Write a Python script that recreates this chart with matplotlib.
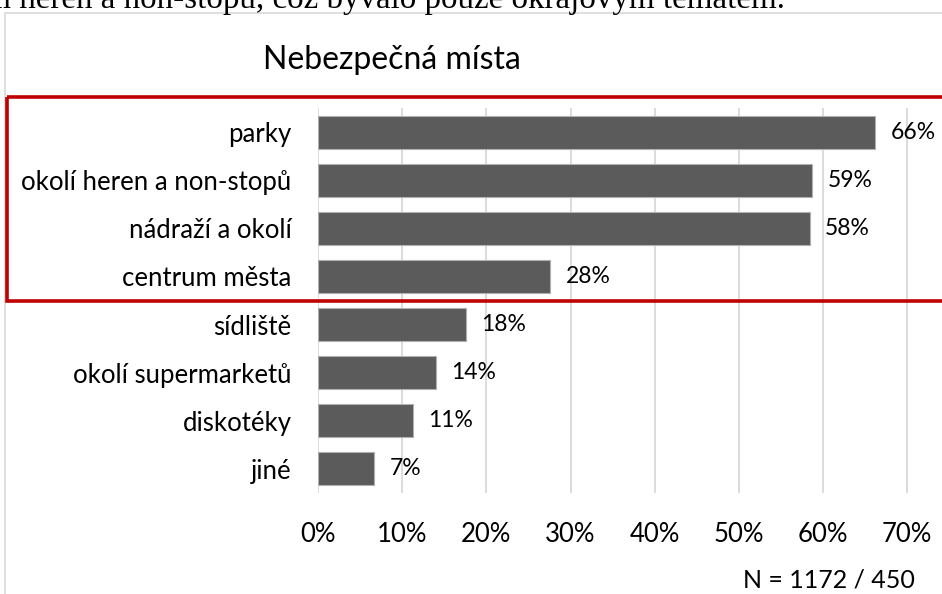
import matplotlib
matplotlib.use("Agg")
import matplotlib.pyplot as plt
from matplotlib.patches import Rectangle
from matplotlib.ticker import PercentFormatter, MultipleLocator
import matplotlib.transforms as mtransforms

# ---- data ----
categories = ["parky", "okolí heren a non-stopů", "nádraží a okolí", "centrum města",
              "sídliště", "okolí supermarketů", "diskotéky", "jiné"]
values = [66.2, 58.7, 58.4, 27.6, 17.6, 14.0, 11.3, 6.7]
title = "Nebezpečná místa"
note = "N = 1172 / 450"
top_text = "ením heren a non-stopů, což bývalo pouze okrajovým tématem."

W, H = 942, 594
DPI = 100
FONT = ["Lato", "DejaVu Sans"]

fig = plt.figure(figsize=(W / DPI, H / DPI), dpi=DPI)
fig.patch.set_facecolor("white")

def px(x, y):
    return x / W, 1 - y / H

# frame of chart (light grey), extends beyond image
fig.add_artist(Rectangle(px(5, 700), 2000 / W, (700 - 13) / H, transform=fig.transFigure,
                         fill=False, edgecolor="#d9d9d9", linewidth=1.2, zorder=0))

# clipped top paragraph text (as in the reference screenshot)
fig.text(785 / W, 1 - 8 / H, top_text, ha="right", va="baseline",
         fontsize=23.8, family=["Liberation Serif", "DejaVu Serif"], color="black")

left, right = 318, 924
top, bottom = 108, 493
ax = fig.add_axes([left / W, 1 - bottom / H, (right - left) / W, (bottom - top) / H])
ypos = list(range(len(categories)))
ax.barh(ypos, values, height=0.685, color="#5b5b5b", edgecolor="#b0b0b0",
        linewidth=0.8, zorder=3)
ax.set_ylim(len(categories) - 0.5, -0.5)
ax.set_xlim(0, 72)
ax.set_yticks(ypos)
ax.set_yticklabels(categories, family=FONT, fontsize=18.5)
ax.xaxis.set_major_locator(MultipleLocator(10))
ax.xaxis.set_major_formatter(PercentFormatter(decimals=0))
for lab in ax.get_xticklabels():
    lab.set_family(FONT)
ax.tick_params(axis="x", labelsize=18.5, length=0, pad=21)
ax.tick_params(axis="y", length=0, pad=19)
ax.grid(axis="x", color="#d9d9d9", linewidth=1.3, zorder=0)
for s in ax.spines.values():
    s.set_visible(False)

for y, v in zip(ypos, values):
    ax.annotate(f"{v:.0f}%", (v, y), xytext=(11, 0), textcoords="offset points",
                ha="left", va="center", fontsize=16.5, family=FONT, color="black")

# title and note
fig.text(263 / W, 1 - 69 / H, title, ha="left", va="baseline", fontsize=23,
         family=FONT, color="black")
fig.text(915 / W, 1 - 580 / H, note, ha="right", va="center", fontsize=18,
         family=FONT, color="black")

# red highlight rectangle around first four categories
trans = mtransforms.blended_transform_factory(fig.transFigure, ax.transData)
rect = Rectangle((7 / W, -0.72), 1.2, 3.5 + 0.72, transform=trans, fill=False,
                 edgecolor="#c00000", linewidth=2.6, clip_on=False, zorder=5)
fig.add_artist(rect)

fig.savefig("out.png", dpi=DPI, facecolor="white")
